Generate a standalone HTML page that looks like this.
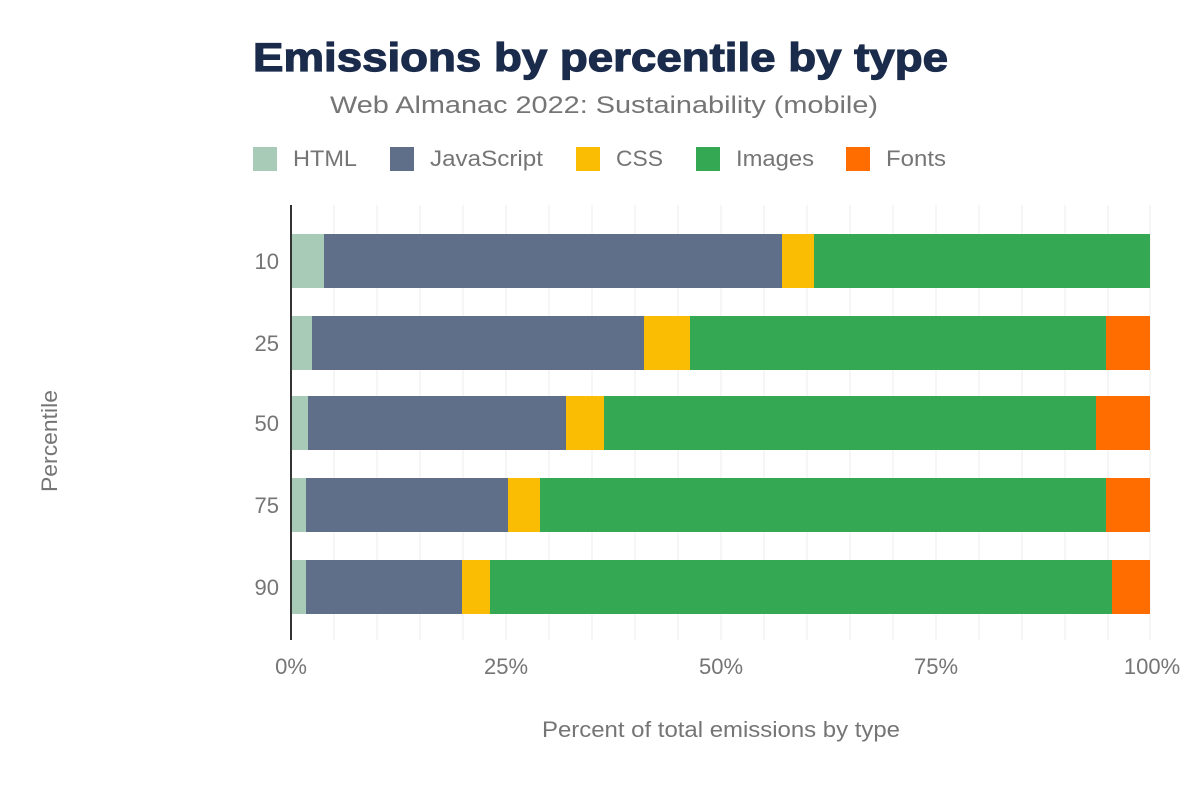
<!DOCTYPE html>
<html><head><meta charset="utf-8"><style>
body{margin:0;background:#fff;}
svg text{font-family:"Liberation Sans",Arial,sans-serif;}
</style></head><body>
<svg width="1200" height="782" xmlns="http://www.w3.org/2000/svg">
<rect width="1200" height="782" fill="#fff"/>
<text x="253" y="71" font-size="40" font-weight="900" fill="#1a2b4b" textLength="695" lengthAdjust="spacingAndGlyphs" stroke="#1a2b4b" stroke-width="1.2">Emissions by percentile by type</text>
<text x="330" y="113" font-size="24" fill="#757575" textLength="548" lengthAdjust="spacingAndGlyphs">Web Almanac 2022: Sustainability (mobile)</text>
<g font-size="22" fill="#757575">
<rect x="253" y="147" width="24" height="24" fill="#a8cbb8"/><text x="293" y="166" textLength="64" lengthAdjust="spacingAndGlyphs">HTML</text>
<rect x="390" y="147" width="24" height="24" fill="#5f6e89"/><text x="430" y="166" textLength="113" lengthAdjust="spacingAndGlyphs">JavaScript</text>
<rect x="576" y="147" width="24" height="24" fill="#fbbc04"/><text x="616" y="166" textLength="47" lengthAdjust="spacingAndGlyphs">CSS</text>
<rect x="696" y="147" width="24" height="24" fill="#35a853"/><text x="736" y="166" textLength="78" lengthAdjust="spacingAndGlyphs">Images</text>
<rect x="846" y="147" width="24" height="24" fill="#ff6d01"/><text x="886" y="166" textLength="60" lengthAdjust="spacingAndGlyphs">Fonts</text>
</g>
<g stroke="#eeeeee" stroke-width="1">
<line x1="334" y1="205" x2="334" y2="640"/><line x1="377" y1="205" x2="377" y2="640"/><line x1="420" y1="205" x2="420" y2="640"/><line x1="463" y1="205" x2="463" y2="640"/><line x1="506" y1="205" x2="506" y2="640"/><line x1="549" y1="205" x2="549" y2="640"/><line x1="592" y1="205" x2="592" y2="640"/><line x1="635" y1="205" x2="635" y2="640"/><line x1="678" y1="205" x2="678" y2="640"/><line x1="721" y1="205" x2="721" y2="640"/><line x1="764" y1="205" x2="764" y2="640"/><line x1="807" y1="205" x2="807" y2="640"/><line x1="850" y1="205" x2="850" y2="640"/><line x1="893" y1="205" x2="893" y2="640"/><line x1="936" y1="205" x2="936" y2="640"/><line x1="979" y1="205" x2="979" y2="640"/><line x1="1022" y1="205" x2="1022" y2="640"/><line x1="1065" y1="205" x2="1065" y2="640"/><line x1="1108" y1="205" x2="1108" y2="640"/><line x1="1150" y1="205" x2="1150" y2="640"/>
</g>
<g>
<rect x="291" y="234" width="33" height="54" fill="#a8cbb8"/><rect x="324" y="234" width="458" height="54" fill="#5f6e89"/><rect x="782" y="234" width="32" height="54" fill="#fbbc04"/><rect x="814" y="234" width="336" height="54" fill="#35a853"/>
<rect x="291" y="316" width="21" height="54" fill="#a8cbb8"/><rect x="312" y="316" width="332" height="54" fill="#5f6e89"/><rect x="644" y="316" width="46" height="54" fill="#fbbc04"/><rect x="690" y="316" width="416" height="54" fill="#35a853"/><rect x="1106" y="316" width="44" height="54" fill="#ff6d01"/>
<rect x="291" y="396" width="17" height="54" fill="#a8cbb8"/><rect x="308" y="396" width="258" height="54" fill="#5f6e89"/><rect x="566" y="396" width="38" height="54" fill="#fbbc04"/><rect x="604" y="396" width="492" height="54" fill="#35a853"/><rect x="1096" y="396" width="54" height="54" fill="#ff6d01"/>
<rect x="291" y="478" width="15" height="54" fill="#a8cbb8"/><rect x="306" y="478" width="202" height="54" fill="#5f6e89"/><rect x="508" y="478" width="32" height="54" fill="#fbbc04"/><rect x="540" y="478" width="566" height="54" fill="#35a853"/><rect x="1106" y="478" width="44" height="54" fill="#ff6d01"/>
<rect x="291" y="560" width="15" height="54" fill="#a8cbb8"/><rect x="306" y="560" width="156" height="54" fill="#5f6e89"/><rect x="462" y="560" width="28" height="54" fill="#fbbc04"/><rect x="490" y="560" width="622" height="54" fill="#35a853"/><rect x="1112" y="560" width="38" height="54" fill="#ff6d01"/>
</g>
<line x1="291" y1="205" x2="291" y2="640" stroke="#333" stroke-width="2"/>
<g font-size="22" fill="#757575" text-anchor="end">
<text x="279" y="269">10</text><text x="279" y="351">25</text><text x="279" y="431">50</text><text x="279" y="513">75</text><text x="279" y="595">90</text>
</g>
<g font-size="22" fill="#757575" text-anchor="middle">
<text x="291" y="674">0%</text><text x="506" y="674">25%</text><text x="721" y="674">50%</text><text x="936" y="674">75%</text><text x="1152" y="674">100%</text>
<text x="721" y="737" textLength="358" lengthAdjust="spacingAndGlyphs">Percent of total emissions by type</text>
<text transform="translate(57,441) rotate(-90)" textLength="102" lengthAdjust="spacingAndGlyphs">Percentile</text>
</g>
</svg>
</body></html>
